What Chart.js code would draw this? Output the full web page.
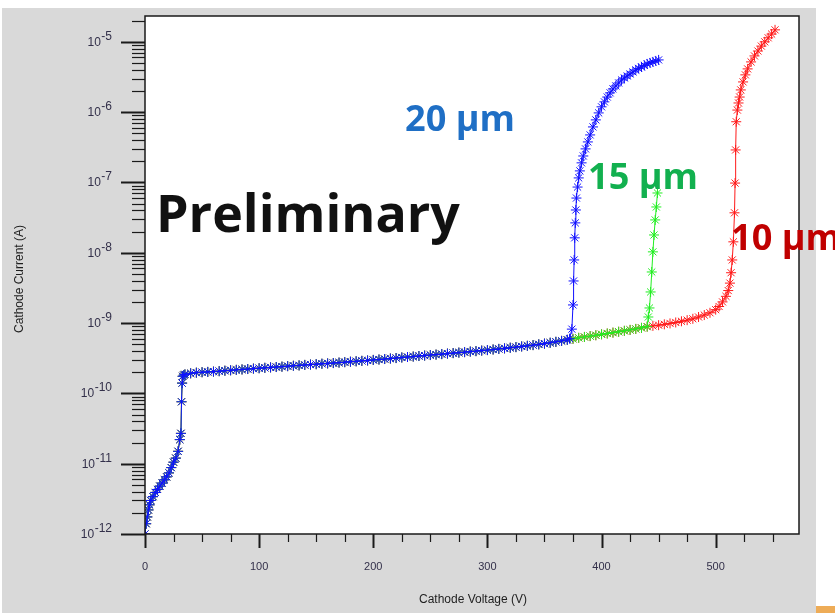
<!DOCTYPE html>
<html>
<head>
<meta charset="utf-8">
<script src="https://cdn.jsdelivr.net/npm/chart.js@4/dist/chart.umd.min.js"></script>
<style>
  html, body { margin: 0; padding: 0; background: #fff; overflow: hidden; }
  canvas { display: block; }
</style>
</head>
<body>
<canvas id="iv" width="835" height="613"></canvas>
<script>
// ---- Measured I-V data: cathode voltage (V) vs cathode current (A) ----

// Turn-on and leakage plateau, shared by all three spacings
const commonVoltage = [
  0, 1, 2, 3, 4, 5, 7, 9, 11, 13, 15, 17, 19, 21, 23, 25, 27, 29, 30.5, 31.5,
  32, 32.5, 33, 34,
  35, 40, 45, 50, 55, 60, 65, 70, 75, 80, 85, 90, 95, 100, 105, 110, 115, 120,
  125, 130, 135, 140, 145, 150, 155, 160, 165, 170, 175, 180, 185, 190, 195, 200,
  205, 210, 215, 220, 225, 230, 235, 240, 245, 250, 255, 260, 265, 270, 275, 280,
  285, 290, 295, 300, 305, 310, 315, 320, 325, 330, 335, 340, 345, 350, 355, 360,
  365, 370
];
const commonCurrent = [
  1.0e-12, 1.4e-12, 1.75e-12, 2.2e-12, 2.6e-12, 3.0e-12, 3.4e-12, 3.9e-12, 4.3e-12, 4.8e-12,
  5.3e-12, 5.9e-12, 6.5e-12, 7.4e-12, 8.8e-12, 1.05e-11, 1.2e-11, 1.5e-11, 2.2e-11, 2.7e-11,
  7.6e-11, 1.4e-10, 1.75e-10, 1.82e-10,
  1.86e-10, 1.93e-10, 1.97e-10, 2.00e-10, 2.02e-10, 2.04e-10, 2.07e-10, 2.10e-10, 2.13e-10, 2.16e-10,
  2.19e-10, 2.22e-10, 2.25e-10, 2.28e-10, 2.31e-10, 2.34e-10, 2.37e-10, 2.40e-10, 2.44e-10, 2.47e-10,
  2.50e-10, 2.54e-10, 2.57e-10, 2.60e-10, 2.64e-10, 2.67e-10, 2.70e-10, 2.74e-10, 2.78e-10, 2.82e-10,
  2.86e-10, 2.90e-10, 2.94e-10, 2.99e-10, 3.03e-10, 3.08e-10, 3.13e-10, 3.18e-10, 3.24e-10, 3.29e-10,
  3.34e-10, 3.40e-10, 3.45e-10, 3.51e-10, 3.56e-10, 3.62e-10, 3.68e-10, 3.74e-10, 3.80e-10, 3.86e-10,
  3.93e-10, 3.99e-10, 4.06e-10, 4.13e-10, 4.21e-10, 4.29e-10, 4.37e-10, 4.46e-10, 4.55e-10, 4.65e-10,
  4.75e-10, 4.86e-10, 4.98e-10, 5.10e-10, 5.25e-10, 5.41e-10, 5.58e-10, 5.78e-10
];

// 20 um: breakdown near 375 V
const tailVoltage20 = [
  372, 374, 375, 375.5, 376, 376.5, 377, 377.5, 378, 379, 380, 381, 382.5, 384, 386, 388, 390,
  392.5, 395, 397.5, 400, 402.5, 405, 407.5, 410, 412.5, 415, 417.5, 420, 422.5, 425, 427.5,
  430, 432.5, 435, 437.5, 440, 442.5, 445, 447.5, 450
];
const tailCurrent20 = [
  6.0e-10, 8.2e-10, 1.81e-9, 3.97e-9, 7.9e-9, 1.63e-8, 2.66e-8, 4.06e-8, 6.0e-8, 8.6e-8, 1.16e-7,
  1.46e-7, 1.90e-7, 2.38e-7, 3.0e-7, 3.77e-7, 4.74e-7, 6.16e-7, 7.76e-7, 9.75e-7, 1.19e-6, 1.40e-6,
  1.64e-6, 1.88e-6, 2.14e-6, 2.36e-6, 2.60e-6, 2.87e-6, 3.06e-6, 3.27e-6, 3.49e-6, 3.73e-6, 3.98e-6,
  4.19e-6, 4.40e-6, 4.62e-6, 4.85e-6, 5.01e-6, 5.18e-6, 5.35e-6, 5.53e-6
];

// Plateau continuation shared by 15 um and 10 um
const midVoltage = [375, 380, 385, 390, 395, 400, 405, 410, 415, 420, 425, 430, 435, 440];
const midCurrent = [
  5.96e-10, 6.17e-10, 6.35e-10, 6.53e-10, 6.71e-10, 6.92e-10, 7.11e-10, 7.31e-10,
  7.53e-10, 7.76e-10, 8.0e-10, 8.26e-10, 8.55e-10, 8.9e-10
];

// 15 um: breakdown near 443 V
const tailVoltage15 = [441, 442, 443, 444, 445, 446, 447, 448, 449];
const tailCurrent15 = [1.22e-9, 1.64e-9, 2.77e-9, 5.33e-9, 1.03e-8, 1.79e-8, 2.93e-8, 4.48e-8, 7.08e-8];

// 10 um: breakdown near 515 V
const tailVoltage10 = [
  445, 450, 455, 460, 465, 470, 475, 480, 485, 490, 495, 500, 503, 506, 509, 511, 512.5, 513.5,
  514.5, 515.5, 516.5, 517, 517.5, 518, 519, 520, 521, 522, 524, 526, 528, 531, 534, 537, 540,
  543, 546, 549, 552
];
const tailCurrent10 = [
  9.12e-10, 9.33e-10, 9.59e-10, 9.89e-10, 1.02e-9, 1.06e-9, 1.10e-9, 1.15e-9, 1.22e-9, 1.30e-9,
  1.40e-9, 1.55e-9, 1.72e-9, 2.0e-9, 2.4e-9, 2.9e-9, 3.7e-9, 5.2e-9, 7.9e-9, 1.43e-8, 3.7e-8,
  9.8e-8, 2.9e-7, 7.3e-7, 1.07e-6, 1.35e-6, 1.64e-6, 2.07e-6, 2.69e-6, 3.39e-6, 4.12e-6, 5.18e-6,
  6.3e-6, 7.4e-6, 8.7e-6, 1.0e-5, 1.14e-5, 1.29e-5, 1.48e-5
];

// Axis ticks
const decadeExponents = [-12, -11, -10, -9, -8, -7, -6, -5];
const xMajorTicks = [0, 100, 200, 300, 400, 500];
const xMinorStep = 25;

const seriesLabels = ['20 μm', '15 μm', '10 μm'];

// ---- Helpers ----
function toPoints(vs, is) {
  return vs.map((v, k) => ({ x: v, y: is[k] }));
}
const points20 = toPoints(commonVoltage.concat(tailVoltage20), commonCurrent.concat(tailCurrent20));
const points15 = toPoints(commonVoltage.concat(midVoltage, tailVoltage15), commonCurrent.concat(midCurrent, tailCurrent15));
const points10 = toPoints(commonVoltage.concat(midVoltage, tailVoltage10), commonCurrent.concat(midCurrent, tailCurrent10));

const TICK_FONT = '"Liberation Sans", Arial, sans-serif';
const NOTE_FONT = '"Open Sans", Lato, sans-serif';

// Overlay labels: left edge, baseline and full text width
const notes = [
  { text: 'Preliminary', color: '#111111', left: 156, baseline: 232, width: 304 },
  { text: seriesLabels[0], color: '#1f6fc5', left: 405, baseline: 131, width: 110 },
  { text: seriesLabels[1], color: '#12b04f', left: 588, baseline: 189, width: 110 },
  { text: seriesLabels[2], color: '#c00000', left: 731, baseline: 250, width: 110 }
];

function fitText(ctx, note) {
  ctx.font = `bold 100px ${NOTE_FONT}`;
  const size = 100 * note.width / ctx.measureText(note.text).width;
  ctx.font = `bold ${size}px ${NOTE_FONT}`;
  ctx.fillStyle = note.color;
  ctx.textAlign = 'left';
  ctx.textBaseline = 'alphabetic';
  ctx.fillText(note.text, note.left, note.baseline);
}

// Background panel, plot frame, ticks, tick labels, titles and overlay labels
const framePlugin = {
  id: 'framePlugin',
  beforeDraw(chart) {
    const { ctx, chartArea: a, width, height } = chart;
    ctx.save();
    ctx.fillStyle = '#ffffff';
    ctx.fillRect(0, 0, width, height);
    ctx.fillStyle = '#d9d9d9';
    ctx.fillRect(2, 8, 814, height - 8);
    ctx.fillStyle = '#eeac57';
    ctx.fillRect(816, 606, width - 816, height - 606);
    ctx.fillStyle = '#ffffff';
    ctx.fillRect(a.left, a.top, a.right - a.left, a.bottom - a.top);
    ctx.restore();
  },
  afterDatasetsDraw(chart) {
    const { ctx, chartArea: a } = chart;
    const xs = chart.scales.x, ys = chart.scales.y;
    ctx.save();

    // frame
    ctx.strokeStyle = '#1a1a1a';
    ctx.lineWidth = 1.5;
    ctx.strokeRect(a.left, a.top, a.right - a.left, a.bottom - a.top);

    // y ticks (log decades with minor 2..9)
    ctx.strokeStyle = '#1a1a1a';
    for (let e = -13; e <= -4; e++) {
      for (let m = 1; m <= 9; m++) {
        const v = m * Math.pow(10, e);
        if (v < ys.min * 0.999 || v > ys.max) continue;
        const y = Math.round(ys.getPixelForValue(v)) + 0.5;
        ctx.beginPath();
        if (m === 1) { ctx.lineWidth = 2; ctx.moveTo(a.left - 24, y); }
        else { ctx.lineWidth = 1.2; ctx.moveTo(a.left - 13, y); }
        ctx.lineTo(a.left, y);
        ctx.stroke();
      }
    }

    // y labels 10^n
    ctx.fillStyle = '#33304a';
    ctx.textAlign = 'right';
    ctx.textBaseline = 'alphabetic';
    decadeExponents.forEach(e => {
      const y = ys.getPixelForValue(Math.pow(10, e));
      ctx.font = `12px ${TICK_FONT}`;
      const exp = String(e);
      const expW = ctx.measureText(exp).width;
      ctx.fillText(exp, 112, y - 2);
      ctx.fillText('10', 112 - expW - 0.5, y + 4);
    });

    // x ticks
    ctx.strokeStyle = '#1a1a1a';
    for (let v = 0; v <= xs.max; v += xMinorStep) {
      const x = Math.round(xs.getPixelForValue(v)) + 0.5;
      const major = v % 100 === 0;
      ctx.lineWidth = major ? 2 : 1.2;
      ctx.beginPath();
      ctx.moveTo(x, a.bottom);
      ctx.lineTo(x, a.bottom + (major ? 14 : 8));
      ctx.stroke();
    }
    ctx.fillStyle = '#33304a';
    ctx.textAlign = 'center';
    ctx.font = `11px ${TICK_FONT}`;
    xMajorTicks.forEach(v => {
      ctx.fillText(String(v), xs.getPixelForValue(v), 570);
    });

    // axis titles
    ctx.fillStyle = '#1e1e1e';
    ctx.font = `12px ${TICK_FONT}`;
    ctx.textAlign = 'center';
    ctx.fillText('Cathode Voltage (V)', 473, 603);
    ctx.save();
    ctx.translate(23, 279);
    ctx.rotate(-Math.PI / 2);
    ctx.fillText('Cathode Current (A)', 0, 0);
    ctx.restore();

    // overlay labels
    notes.forEach(n => fitText(ctx, n));
    ctx.restore();
  }
};

function series(label, data, color) {
  return {
    label,
    data,
    showLine: true,
    borderColor: color,
    backgroundColor: color,
    borderWidth: 1,
    pointStyle: 'star',
    pointRadius: 5,
    pointBorderWidth: 1,
    pointBorderColor: color,
    pointHoverRadius: 5
  };
}

new Chart(document.getElementById('iv'), {
  type: 'scatter',
  data: {
    datasets: [
      series(seriesLabels[0], points20, '#1010ff'),
      series(seriesLabels[1], points15, '#22ee22'),
      series(seriesLabels[2], points10, '#ff1a1a')
    ]
  },
  options: {
    responsive: false,
    devicePixelRatio: 1,
    animation: false,
    events: [],
    layout: { padding: { left: 145, top: 16, right: 36, bottom: 79 } },
    plugins: { legend: { display: false }, tooltip: { enabled: false } },
    scales: {
      x: { type: 'linear', min: 0, max: 573, display: false },
      y: { type: 'logarithmic', min: 1e-12, max: 2.33e-5, display: false }
    }
  },
  plugins: [framePlugin]
});
</script>
</body>
</html>
